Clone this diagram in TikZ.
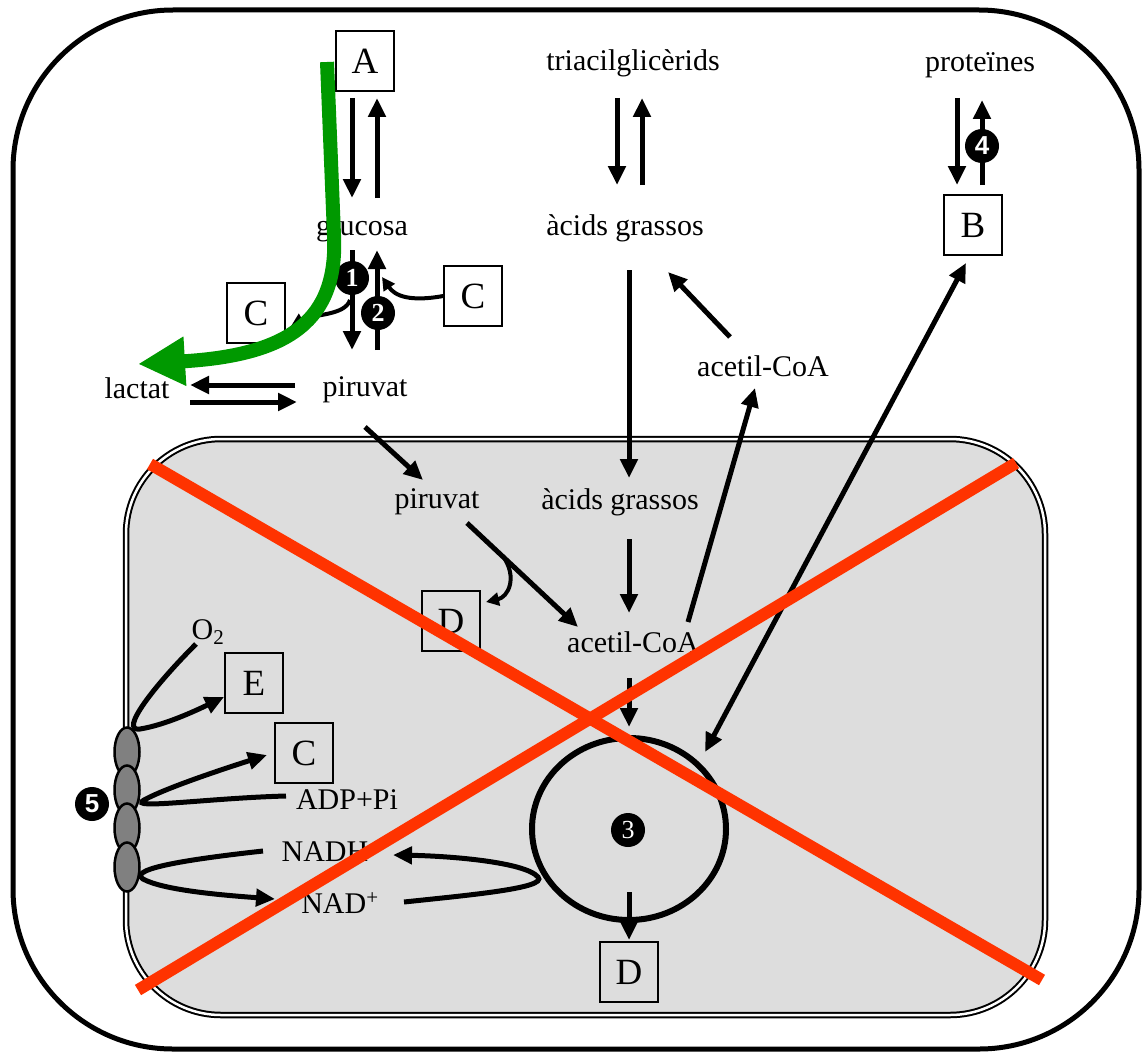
\documentclass[tikz,border=0pt]{standalone}
\usepackage{fontspec}
\setmainfont{Liberation Serif}
\newfontfamily\numsans{Liberation Sans}
\usetikzlibrary{arrows.meta,calc,shapes.geometric}
\definecolor{mitogray}{HTML}{DDDDDD}
\definecolor{xred}{HTML}{FF3300}
\definecolor{pgreen}{HTML}{009900}
\definecolor{protgray}{HTML}{808080}
\begin{document}
\begin{tikzpicture}[x=1pt,y=-1pt,
  arr/.style={line width=5pt,-{Triangle[length=19pt,width=17pt]}},
  sarr/.style={line width=4pt,-{Triangle[length=13pt,width=13pt]}},
  darr/.style={line width=5pt,{Triangle[length=19pt,width=17pt]}-{Triangle[length=19pt,width=17pt]}},
  txt/.style={font=\fontsize{30}{36}\selectfont,inner sep=0pt},
  lbox/.style={draw,line width=1.5pt,minimum width=58pt,minimum height=60pt,inner sep=0pt,font=\fontsize{37}{40}\selectfont},
  numc/.style={circle,fill=black,text=white,inner sep=0pt,minimum size=34pt,font=\fontsize{26}{28}\selectfont\bfseries},
  prot/.style={ellipse,draw,line width=2.5pt,fill=protgray,minimum width=25pt,minimum height=49pt,inner sep=0pt},
  xline/.style={line width=12pt,xred},
]
\useasboundingbox (0,0) rectangle (1142,1054);
% outer cell
\draw[line width=5pt,rounded corners=160pt] (13,10) rectangle (1139,1049);
% mitochondrion
\draw[line width=2pt,double=white,double distance=2.5pt,fill=mitogray,rounded corners=95pt] (126,439) rectangle (1045,1015);

% cytosol nodes
\node[lbox] (A) at (365,61) {A};
\node[txt] (glu) at (362,228) {glucosa};
\node[lbox] (Cr) at (473,296) {C};
\node[lbox] (Cl) at (256,313) {C};
\node[txt] (lac) at (137,388) {lactat};
\node[txt] (pir) at (365,390) {piruvat};
\node[txt] (tag) at (633,63) {triacilglicèrids};
\node[txt] (ag) at (625,228) {àcids grassos};
\node[txt] (acc) at (763,366) {acetil-CoA};
\node[txt] (prot) at (980,65) {proteïnes};
\node[lbox] (B) at (973,225) {B};

% mito nodes
\node[txt] (pirm) at (437,502) {piruvat};
\node[txt] (agm) at (620,502) {àcids grassos};
\node[lbox] (Dm) at (451,621) {D};
\node[txt] (accm) at (633,642) {acetil-CoA};
\node[txt] (o2) at (208,632) {O\textsubscript{2}};
\node[lbox] (E) at (254,683) {E};
\node[lbox] (Cm) at (304,753) {C};
\node[txt] (adp) at (347,800) {ADP+Pi};
\node[txt] (nadh) at (325,852) {NADH};
\node[txt] (nad) at (340,903) {NAD\textsuperscript{+}};
\node[lbox] (Db) at (629,972) {D};
\draw[line width=6pt] (629,829) ellipse [x radius=97pt,y radius=91pt];
\coordinate (krebs) at (629,829);
\node[numc,font=\fontsize{26}{28}\selectfont] (n3) at (628,830) {3};

% glucose <-> A
\draw[arr] (352,98) -- (352,198);
\draw[arr] (377,198) -- (377,98);
% glucose <-> pyruvate
\draw[arr] (352,250) -- (352,350);
\draw[arr] (377,350) -- (377,250);
\node[numc] (n1) at (352,278) {1};
\node[numc] (n2) at (378,313) {2};
\draw[sarr] (Cr.west) .. controls (410,302) and (395,296) .. (382,277);
\draw[sarr] (350,300) .. controls (345,316) and (312,314) .. (291,326);
% lactate <-> pyruvate
\draw[arr] (295,385) -- (190,385);
\draw[arr] (190,402) -- (297,402);
% pyruvate into mito
\draw[arr] (365,427) -- (423,480);
% triacylglycerides <-> fatty acids
\draw[arr] (617,98) -- (617,185);
\draw[arr] (642,185) -- (642,98);
\draw[arr] (629,270) -- (629,478);
% acetyl-CoA -> fatty acids
\draw[arr] (730,337) -- (668,272);
\draw[arr] (688,622) -- (755,388);
% proteins <-> B
\draw[arr] (957,98) -- (957,185);
\draw[arr] (982,185) -- (982,100);
\node[numc,font=\fontsize{26}{28}\selectfont\numsans\bfseries] (n4) at (982,146) {4};
\draw[darr] (966,263) -- (705,752);

% inside mito
\draw[arr] (629,539) -- (629,613);
\draw[arr] (467,523) -- (578,627);
\draw[sarr] (503,556) .. controls (518,578) and (508,597) .. (486,602);
\draw[arr] (629,678) -- (629,727);
\draw[arr] (629,892) -- (629,940);

% respiratory chain
\node[prot] (p1) at (127,752) {};
\node[prot] (p2) at (127,790) {};
\node[prot] (p3) at (127,828) {};
\node[prot] (p4) at (127,867) {};
\node[numc,font=\fontsize{26}{28}\selectfont\numsans\bfseries] (n5) at (92,804) {5};
\draw[arr] (196,644) .. controls (155,685) and (118,732) .. (140,729) .. controls (165,725) and (195,711) .. (224,697);
\draw[arr] (286,796) .. controls (210,798) and (126,810) .. (144,800) .. controls (166,788) and (220,770) .. (267,755);
\draw[arr] (263,851) .. controls (200,858) and (126,868) .. (143,879) .. controls (163,890) and (220,895) .. (275,899);
\draw[arr] (404,902) .. controls (470,895) and (548,888) .. (538,877) .. controls (525,862) and (450,856) .. (393,855);

% green arrow
\draw[pgreen,line width=14pt,-{Triangle[length=47pt,width=46pt]}] (327,62) -- (334,235) .. controls (338,320) and (290,355) .. (138,364);

% red cross
\draw[xline] (150,464) -- (1042,980);
\draw[xline] (1016,463) -- (138,990);
\end{tikzpicture}
\end{document}
